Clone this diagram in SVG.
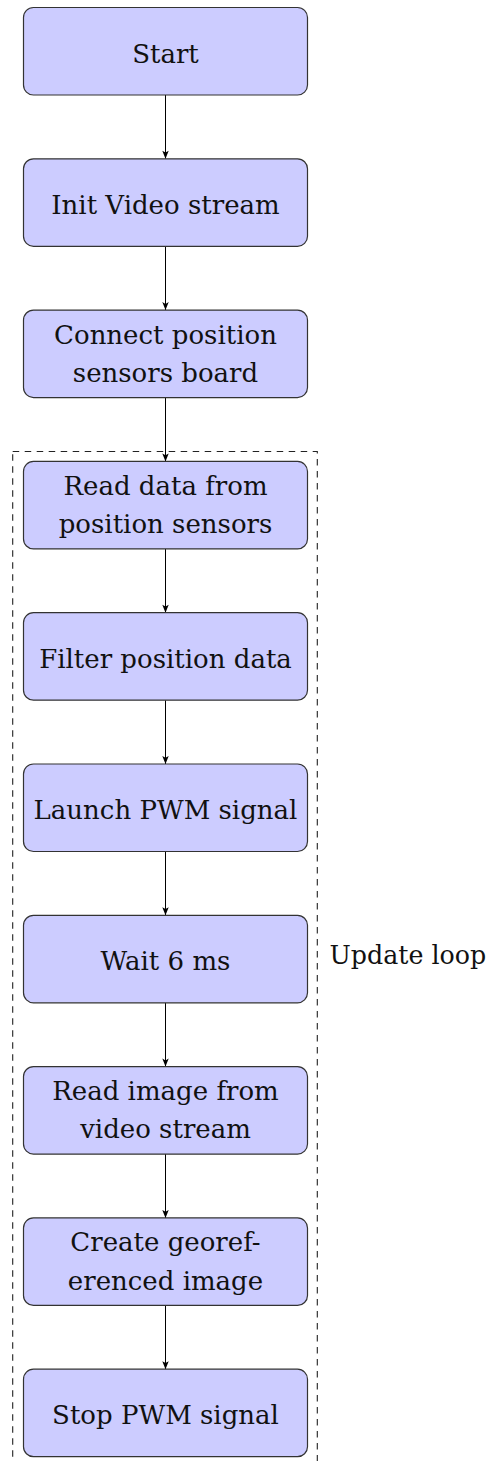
<svg xmlns="http://www.w3.org/2000/svg" width="489" height="1461" viewBox="0 0 489 1461">
<style>
.box{fill:#ccccff;stroke:#333333;stroke-width:1.2}
.t{font-family:"DejaVu Serif",serif;font-size:26px;fill:#111111;text-anchor:middle}
.c{stroke:#000000;stroke-width:1;fill:none;marker-end:url(#arr)}
.loop{fill:none;stroke:#222222;stroke-width:1.1;stroke-dasharray:6.5 5.5}
</style>
<defs>
<marker id="arr" viewBox="-9 -4 10 8" refX="0" refY="0" markerWidth="10" markerHeight="8" markerUnits="userSpaceOnUse" orient="auto">
<path d="M0,0 L-8,-3.2 L-6.2,0 L-8,3.2 Z" fill="#000000"/>
</marker>
</defs>
<g id="loop">
<rect class="loop" x="12.7" y="451.5" width="304.6" height="1020"/>
<text class="t" x="329.5" y="963.5" style="text-anchor:start;font-size:25.3px">Update loop</text>
</g>
<g id="connectors">
<line class="c" x1="165.5" y1="95" x2="165.5" y2="158.8"/>
<line class="c" x1="165.5" y1="246.3" x2="165.5" y2="310.1"/>
<line class="c" x1="165.5" y1="397.6" x2="165.5" y2="461.4"/>
<line class="c" x1="165.5" y1="548.9" x2="165.5" y2="612.7"/>
<line class="c" x1="165.5" y1="700.2" x2="165.5" y2="764"/>
<line class="c" x1="165.5" y1="851.5" x2="165.5" y2="915.3"/>
<line class="c" x1="165.5" y1="1002.8" x2="165.5" y2="1066.6"/>
<line class="c" x1="165.5" y1="1154.1" x2="165.5" y2="1217.9"/>
<line class="c" x1="165.5" y1="1305.4" x2="165.5" y2="1369.2"/>
</g>
<g id="start">
<rect class="box" x="23.5" y="7.5" width="284" height="87.5" rx="10"/>
<text class="t" x="165.5" y="62.5">Start</text>
</g>
<g id="init">
<rect class="box" x="23.5" y="158.8" width="284" height="87.5" rx="10"/>
<text class="t" x="165.5" y="213.8">Init Video stream</text>
</g>
<g id="connect">
<rect class="box" x="23.5" y="310.1" width="284" height="87.5" rx="10"/>
<text class="t" x="165.5" y="343.5">Connect position</text>
<text class="t" x="165.5" y="381.8">sensors board</text>
</g>
<g id="readdata">
<rect class="box" x="23.5" y="461.4" width="284" height="87.5" rx="10"/>
<text class="t" x="165.5" y="494.8">Read data from</text>
<text class="t" x="165.5" y="533.1">position sensors</text>
</g>
<g id="filter">
<rect class="box" x="23.5" y="612.7" width="284" height="87.5" rx="10"/>
<text class="t" x="165.5" y="667.7">Filter position data</text>
</g>
<g id="launch">
<rect class="box" x="23.5" y="764" width="284" height="87.5" rx="10"/>
<text class="t" x="165.5" y="819">Launch PWM signal</text>
</g>
<g id="wait">
<rect class="box" x="23.5" y="915.3" width="284" height="87.5" rx="10"/>
<text class="t" x="165.5" y="970.3">Wait 6 ms</text>
</g>
<g id="readimage">
<rect class="box" x="23.5" y="1066.6" width="284" height="87.5" rx="10"/>
<text class="t" x="165.5" y="1100">Read image from</text>
<text class="t" x="165.5" y="1138.3">video stream</text>
</g>
<g id="georef">
<rect class="box" x="23.5" y="1217.9" width="284" height="87.5" rx="10"/>
<text class="t" x="165.5" y="1251.3">Create georef-</text>
<text class="t" x="165.5" y="1289.6">erenced image</text>
</g>
<g id="stop">
<rect class="box" x="23.5" y="1369.2" width="284" height="87.5" rx="10"/>
<text class="t" x="165.5" y="1424.2">Stop PWM signal</text>
</g>
</svg>
